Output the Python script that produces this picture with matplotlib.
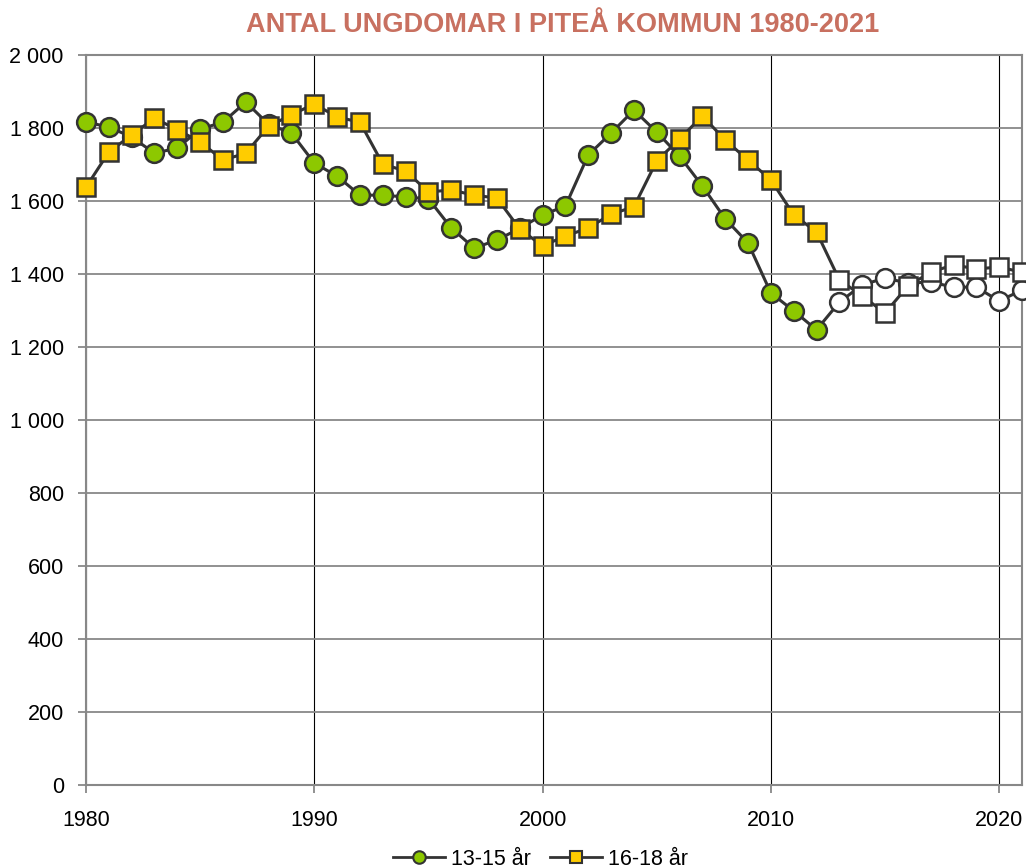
import matplotlib
matplotlib.use("Agg")
import matplotlib.pyplot as plt
from matplotlib.ticker import FuncFormatter, MultipleLocator
from matplotlib.lines import Line2D

years = list(range(1980, 2022))
age_13_15 = [1816, 1803, 1775, 1731, 1745, 1797, 1816, 1871, 1810, 1786,
             1704, 1668, 1616, 1616, 1611, 1606, 1526, 1471, 1493, 1525,
             1562, 1586, 1726, 1786, 1849, 1789, 1723, 1641, 1551, 1485,
             1348, 1299, 1247, 1323, 1370, 1389, 1375, 1378, 1364, 1364,
             1326, 1356]
age_16_18 = [1638, 1734, 1781, 1827, 1795, 1762, 1712, 1731, 1805, 1836,
             1866, 1830, 1816, 1701, 1682, 1625, 1630, 1616, 1608, 1523,
             1477, 1504, 1526, 1564, 1584, 1710, 1770, 1833, 1767, 1712,
             1658, 1562, 1515, 1384, 1340, 1293, 1367, 1405, 1425, 1414,
             1419, 1405]
forecast_start = 2013
series_names = ["13-15 år", "16-18 år"]
title = "ANTAL UNGDOMAR I PITEÅ KOMMUN 1980-2021"

font = ["Liberation Sans Narrow", "Liberation Sans", "DejaVu Sans"]
plt.rcParams["font.family"] = font

fig = plt.figure(figsize=(10.26, 8.68), dpi=100)
ax = fig.add_axes([86/1026, 1-785/868, (1022-86)/1026, (785-55)/868])

line_col = "#333333"
green = "#8DC800"
yellow = "#FFCC00"

def fill_colors(base):
    return [base if y < forecast_start else "white" for y in years]

for vals, marker, col, ms in [(age_13_15, "o", green, 13.5), (age_16_18, "s", yellow, 12.5)]:
    ax.plot(years, vals, color=line_col, lw=2.2, zorder=3, clip_on=False)
    for x, v, fc in zip(years, vals, fill_colors(col)):
        ax.plot([x], [v], marker=marker, ms=ms, mfc=fc, mec=line_col, mew=1.8,
                zorder=4, ls="none", clip_on=False)

ax.set_xlim(1980, 2021)
ax.set_ylim(0, 2000)
ax.yaxis.set_major_locator(MultipleLocator(200))
ax.xaxis.set_major_locator(MultipleLocator(10))
ax.yaxis.set_major_formatter(FuncFormatter(lambda v, p: f"{int(v):,}".replace(",", " ")))
ax.grid(axis="y", color="#888888", lw=1.3, zorder=1)
ax.grid(axis="x", color="black", lw=0.8, zorder=1)
for s in ax.spines.values():
    s.set_color("#888888")
    s.set_linewidth(1.5)
ax.tick_params(axis="both", colors="#888888", labelcolor="black", labelsize=15.5, length=6, width=1.3)
ax.tick_params(axis="y", pad=10)
ax.tick_params(axis="x", pad=12)

fig.text(0.548, 0.971, title, ha="center", va="center", color="#C87060",
         fontsize=19.5, fontweight="bold")

handles = [Line2D([], [], color=line_col, lw=2, marker="o", ms=9, mfc=green, mec=line_col, mew=1.5),
           Line2D([], [], color=line_col, lw=2, marker="s", ms=8, mfc=yellow, mec=line_col, mew=1.5)]
fig.legend(handles, series_names, loc="center", bbox_to_anchor=(0.527, 0.01), ncol=2,
           frameon=False, fontsize=15.5, handlelength=2.4, columnspacing=0.9, handletextpad=0.3)

fig.savefig("out.png", dpi=100)
